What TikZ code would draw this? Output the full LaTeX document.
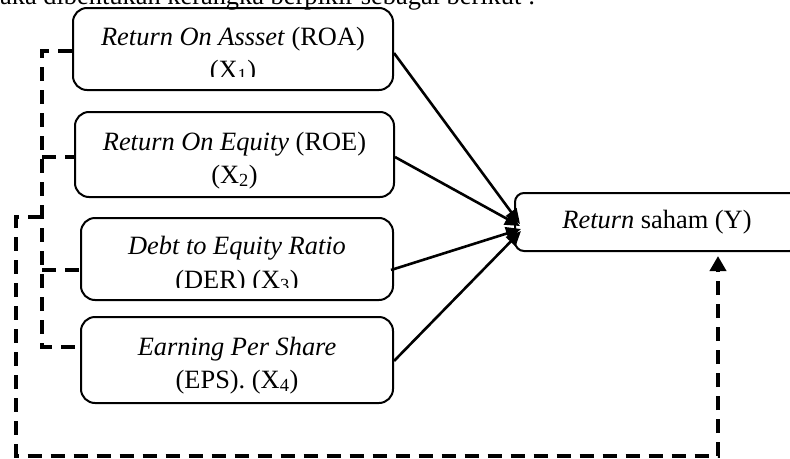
\documentclass[tikz,border=0pt]{standalone}
\usepackage{fontspec}
\setmainfont{Liberation Serif}
\usetikzlibrary{arrows.meta,calc}
\begin{document}
\begin{tikzpicture}[x=1pt,y=-1pt,
  xbox/.style={draw,line width=2pt,rounded corners=14pt,inner sep=0pt},
  ybox/.style={draw,line width=2pt,rounded corners=9pt,inner sep=0pt},
  lbl/.style={inner sep=0pt,anchor=base},
  solidarrow/.style={line width=2.6pt,-{Triangle[length=15pt,width=13pt]}},
  dashline/.style={line width=4pt,dash pattern=on 14pt off 9pt},
  dasharrow/.style={dashline,-{Triangle[length=15pt,width=16pt]}},
  font=\fontsize{26.4pt}{33pt}\selectfont]
\clip (0,0) rectangle (790,458);

% cut-off line of running text above the figure
\node[inner sep=0pt,anchor=base west] (intro) at (0,4) {aka dibentukan kerangka berpikir sebagai berikut :};

% boxes
\node[xbox,minimum width=320pt,minimum height=82pt] (roa) at (233,49) {};
\node[xbox,minimum width=319pt,minimum height=85pt] (roe) at (234.5,154.5) {};
\node[xbox,minimum width=312pt,minimum height=82pt] (der) at (237,259) {};
\node[xbox,minimum width=312pt,minimum height=86pt] (eps) at (237,360) {};
\node[ybox,minimum width=284pt,minimum height=58pt] (ret) at (657,222) {\textit{Return} saham (Y)};

% box texts
\node[lbl] (roa1) at (233,45) {\textit{Return On Assset} (ROA)};
\begin{scope}
  \clip (60,0) rectangle (400,76);
  \node[lbl] (roa2) at (233,78) {(X\textsubscript{1})};
\end{scope}
\node[lbl] (roe1) at (234.5,150) {\textit{Return On Equity} (ROE)};
\node[lbl] (roe2) at (234.5,183) {(X\textsubscript{2})};
\node[lbl] (der1) at (237,254) {\textit{Debt to Equity Ratio}};
\begin{scope}
  \clip (60,200) rectangle (400,287);
  \node[lbl] (der2) at (237,288) {(DER) (X\textsubscript{3})};
\end{scope}
\node[lbl] (eps1) at (237,355) {\textit{Earning Per Share}};
\node[lbl] (eps2) at (237,388) {(EPS). (X\textsubscript{4})};

% solid arrows into Return saham
\draw[solidarrow] ($(roa.east)+(0,4)$) -- ($(ret.west)+(6,2)$);
\draw[solidarrow] ($(roe.east)+(0,2.5)$) -- ($(ret.west)+(6,4)$);
\draw[solidarrow] ($(der.east)+(-3,11)$) -- ($(ret.west)+(7,7)$);
\draw[solidarrow] ($(eps.east)+(0,1)$) -- ($(ret.west)+(7,9)$);

% dashed bus on the left
\coordinate (b1) at (42,51);
\coordinate (b2) at (42,157);
\coordinate (b3) at (42,270);
\coordinate (b4) at (42,347);
\coordinate (jn) at (42,217);
\coordinate (c1) at (16,217);
\coordinate (c2) at (16,455.5);
\coordinate (c3) at (718,455.5);
\draw[dashline] (b1 -| roa.west) -- (b1) -- (b4) -- (b4 -| eps.west);
\draw[dashline] (b2) -- (b2 -| roe.west);
\draw[dashline] (b3) -- (b3 -| der.west);
\draw[dasharrow,shorten >=4pt] (jn) -- (c1) -- (c2) -- (c3) -- (c3 |- ret.south);
\end{tikzpicture}
\end{document}
